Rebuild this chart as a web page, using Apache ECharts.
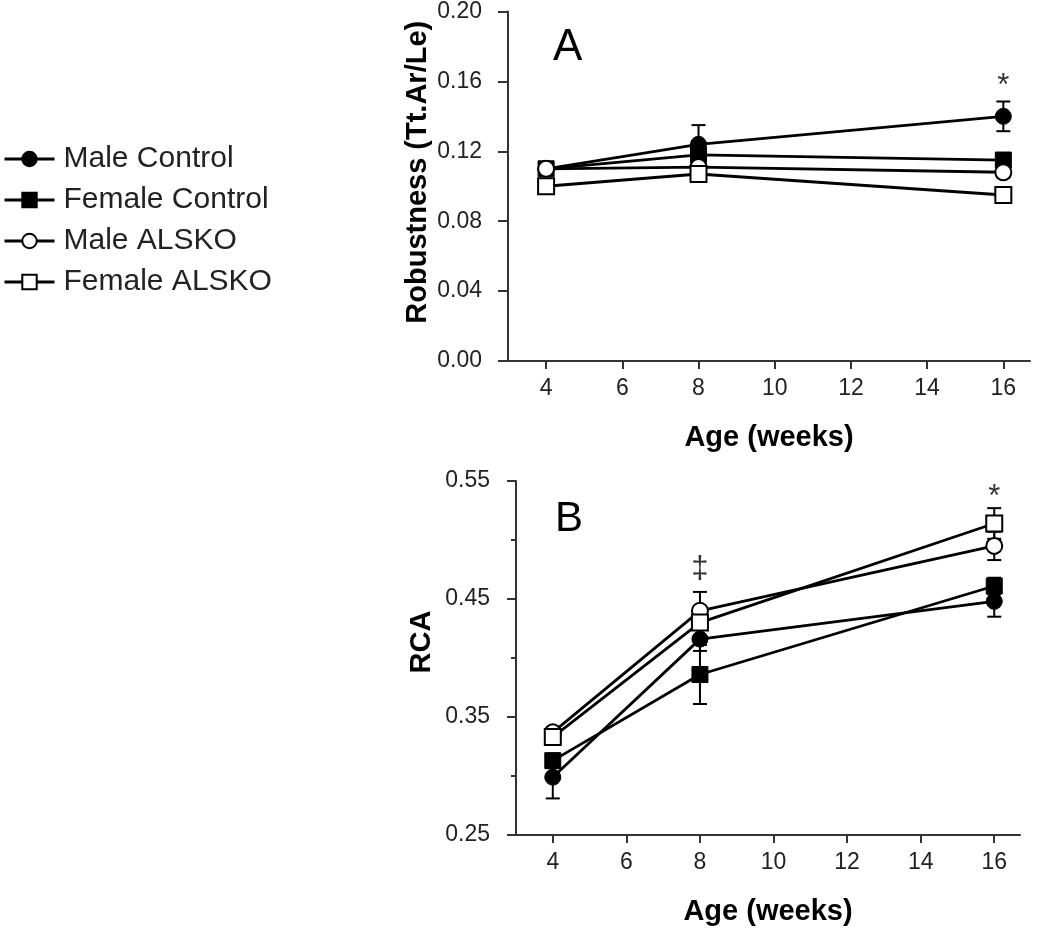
<!DOCTYPE html>
<html>
<head>
<meta charset="utf-8">
<script src="https://cdn.jsdelivr.net/npm/echarts@6/dist/echarts.min.js"></script>
<style>
    html, body { margin: 0; padding: 0; background: #fff; }
    #main { width: 1050px; height: 929px; }
</style>
</head>
<body>
<div id="main"></div>
<script>
// ages (weeks)
var weeks = [4, 8, 16];
var weekTicks = [4, 6, 8, 10, 12, 14, 16];
var groups = ['Male Control', 'Female Control', 'Male ALSKO', 'Female ALSKO'];

// panel A - robustness (Tt.Ar/Le), mean and SE
var robMaleCtrl = [0.110, 0.124, 0.140];
var robMaleCtrlSe = [0.003, 0.011, 0.0085];
var robFemCtrl = [0.110, 0.118, 0.115];
var robFemCtrlSe = [0.003, 0.004, 0.003];
var robMaleKO = [0.110, 0.111, 0.108];
var robMaleKOSe = [0.003, 0.003, 0.003];
var robFemKO = [0.100, 0.107, 0.095];
var robFemKOSe = [0.003, 0.003, 0.002];

// panel B - RCA, mean and SE
var rcaMaleCtrl = [0.299, 0.416, 0.448];
var rcaMaleCtrlSe = [0.018, 0.010, 0.013];
var rcaFemCtrl = [0.313, 0.386, 0.461];
var rcaFemCtrlSe = [0.006, 0.025, 0.007];
var rcaMaleKO = [0.337, 0.440, 0.495];
var rcaMaleKOSe = [0.004, 0.016, 0.012];
var rcaFemKO = [0.333, 0.430, 0.514];
var rcaFemKOSe = [0.005, 0.012, 0.013];

// significance marks
var marksA = [{value: [16, 0.157], name: '*'}];
var marksB = [{value: [16, 0.536], name: '*'}, {value: [8, 0.475], name: '‡'}];

var chart = echarts.init(document.getElementById('main'));
var font = 'Liberation Sans, Arial, sans-serif';
var axisColor = '#333';

var markerStyles = [
    {symbol: 'circle', itemStyle: {color: '#000', borderColor: '#000', borderWidth: 1}},
    {symbol: 'rect', itemStyle: {color: '#000', borderColor: '#000', borderWidth: 1}},
    {symbol: 'circle', itemStyle: {color: '#fff', borderColor: '#000', borderWidth: 2}},
    {symbol: 'rect', itemStyle: {color: '#fff', borderColor: '#000', borderWidth: 2}}
];

function errData(means, ses) {
    var out = [];
    for (var i = 0; i < weeks.length; i++) {
        out.push([weeks[i], means[i] - ses[i], means[i] + ses[i]]);
    }
    return out;
}

function renderErr(params, api) {
    var top = api.coord([api.value(0), api.value(2)]);
    var bot = api.coord([api.value(0), api.value(1)]);
    var w = 7;
    var st = {stroke: '#000', lineWidth: 2};
    return {
        type: 'group',
        children: [
            {type: 'line', shape: {x1: top[0], y1: top[1], x2: bot[0], y2: bot[1]}, style: st},
            {type: 'line', shape: {x1: top[0] - w, y1: top[1], x2: top[0] + w, y2: top[1]}, style: st},
            {type: 'line', shape: {x1: bot[0] - w, y1: bot[1], x2: bot[0] + w, y2: bot[1]}, style: st}
        ]
    };
}

function panelSeries(idx, means, ses, marks) {
    var list = [];
    for (var i = 0; i < means.length; i++) {
        list.push({
            type: 'custom',
            xAxisIndex: idx,
            yAxisIndex: idx,
            renderItem: renderErr,
            data: errData(means[i], ses[i]),
            z: 1,
            silent: true
        });
    }
    for (var j = 0; j < means.length; j++) {
        var pts = [];
        for (var k = 0; k < weeks.length; k++) pts.push([weeks[k], means[j][k]]);
        list.push({
            type: 'line',
            name: groups[j],
            xAxisIndex: idx,
            yAxisIndex: idx,
            data: pts,
            symbol: markerStyles[j].symbol,
            symbolSize: 16,
            showAllSymbol: true,
            lineStyle: {color: '#000', width: 2.8},
            itemStyle: markerStyles[j].itemStyle,
            z: 2 + j,
            animation: false
        });
    }
    list.push({
        type: 'scatter',
        xAxisIndex: idx,
        yAxisIndex: idx,
        data: marks,
        symbolSize: 1,
        itemStyle: {color: 'transparent'},
        label: {
            show: true,
            position: 'inside',
            formatter: '{b}',
            color: '#000',
            fontFamily: font,
            fontSize: 31
        },
        silent: true,
        z: 10
    });
    return list;
}

function xAxisFor(idx) {
    return {
        type: 'value',
        gridIndex: idx,
        min: 3,
        max: 16.7,
        name: 'Age (weeks)',
        nameLocation: 'middle',
        nameGap: 62,
        nameTextStyle: {fontFamily: font, fontSize: 29, fontWeight: 'bold', color: '#000'},
        axisLine: {lineStyle: {color: axisColor, width: 2}},
        axisTick: {show: true, length: 8, lineStyle: {color: axisColor, width: 2}, customValues: weekTicks},
        axisLabel: {fontFamily: font, fontSize: 23, color: '#222', margin: 16, customValues: weekTicks},
        splitLine: {show: false}
    };
}

var option = {
    backgroundColor: '#fff',
    animation: false,
    legend: {
        orient: 'vertical',
        left: 3,
        top: 144,
        padding: 0,
        itemWidth: 50,
        itemHeight: 18,
        itemGap: 11,
        data: groups,
        lineStyle: {width: 3},
        textStyle: {fontFamily: font, fontSize: 30, color: '#222', padding: [0, 0, 0, 4]}
    },
    graphic: [
        {type: 'text', left: 553, top: 26, style: {text: 'A', font: '44px ' + font, fill: '#000'}},
        {type: 'text', left: 555, top: 498, style: {text: 'B', font: '42px ' + font, fill: '#000'}}
    ],
    grid: [
        {left: 508, top: 10, width: 522, height: 351},
        {left: 516, top: 481, width: 504, height: 354}
    ],
    xAxis: [xAxisFor(0), xAxisFor(1)],
    yAxis: [{
        type: 'value',
        gridIndex: 0,
        min: 0,
        max: 0.2,
        interval: 0.04,
        name: 'Robustness (Tt.Ar/Le)',
        nameLocation: 'middle',
        nameGap: 76,
        nameTextStyle: {fontFamily: font, fontSize: 29, fontWeight: 'bold', color: '#000', padding: [0, 0, 0, 28]},
        axisLine: {show: true, lineStyle: {color: axisColor, width: 2}},
        axisTick: {show: true, length: 10, lineStyle: {color: axisColor, width: 2}},
        axisLabel: {fontFamily: font, fontSize: 23, color: '#222', margin: 26, formatter: function (v) { return v.toFixed(2); }},
        splitLine: {show: false}
    }, {
        type: 'value',
        gridIndex: 1,
        min: 0.25,
        max: 0.55,
        interval: 0.1,
        name: 'RCA',
        nameLocation: 'middle',
        nameGap: 80,
        nameTextStyle: {fontFamily: font, fontSize: 29, fontWeight: 'bold', color: '#000', padding: [0, 0, 0, 32]},
        axisLine: {show: true, lineStyle: {color: axisColor, width: 2}},
        axisTick: {show: true, length: 9, lineStyle: {color: axisColor, width: 2}},
        minorTick: {show: true, splitNumber: 2, length: 5, lineStyle: {color: axisColor, width: 2}},
        axisLabel: {fontFamily: font, fontSize: 23, color: '#222', margin: 26, formatter: function (v) { return v.toFixed(2); }},
        splitLine: {show: false}
    }],
    series: [].concat(
        panelSeries(0, [robMaleCtrl, robFemCtrl, robMaleKO, robFemKO],
            [robMaleCtrlSe, robFemCtrlSe, robMaleKOSe, robFemKOSe], marksA),
        panelSeries(1, [rcaMaleCtrl, rcaFemCtrl, rcaMaleKO, rcaFemKO],
            [rcaMaleCtrlSe, rcaFemCtrlSe, rcaMaleKOSe, rcaFemKOSe], marksB)
    )
};

chart.setOption(option);
</script>
</body>
</html>
